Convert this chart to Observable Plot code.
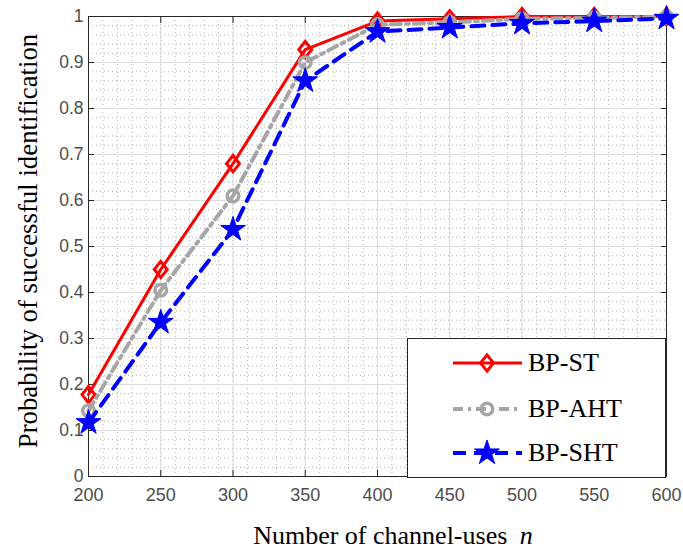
<!DOCTYPE html>
<html><head><meta charset="utf-8">
<script src="https://cdn.jsdelivr.net/npm/d3@7"></script>
<script src="https://cdn.jsdelivr.net/npm/@observablehq/plot@0.6"></script>
<style>body{margin:0;background:#fff}</style>
</head><body><div id="chart"></div>
<script>
const nValues = [200, 250, 300, 350, 400, 450, 500, 550, 600];
const seriesNames = ["BP-ST", "BP-AHT", "BP-SHT"];
const stValues  = [0.178, 0.450, 0.680, 0.928, 0.990, 0.995, 1.000, 1.000, 1.000];
const ahtValues = [0.143, 0.405, 0.610, 0.900, 0.982, 0.987, 0.995, 0.997, 0.999];
const shtValues = [0.117, 0.335, 0.537, 0.860, 0.967, 0.976, 0.985, 0.990, 0.996];
const xTicks = [200, 250, 300, 350, 400, 450, 500, 550, 600];
const yTicks = [0, 0.1, 0.2, 0.3, 0.4, 0.5, 0.6, 0.7, 0.8, 0.9, 1];
const xMinorStep = 10;
const yMinorStep = 0.02;
const xLabel = "Number of channel-uses ";
const xLabelVar = "n";
const yLabel = "Probability of successful identification";

const seriesValues = [stValues, ahtValues, shtValues];
const data = seriesNames.flatMap((s, i) => nValues.map((n, j) => ({series: s, n, p: seriesValues[i][j]})));
const xMinor = d3.range(200, 600 + 1e-9, xMinorStep);
const yMinor = d3.range(0, 1 + 1e-9, yMinorStep).map(v => +v.toFixed(2));

const colors = {"BP-ST": "#ff0000", "BP-AHT": "#a6a6a6", "BP-SHT": "#0000ff"};
const dashes = {"BP-ST": null, "BP-AHT": "10,5,3,5", "BP-SHT": "13,8"};
const widths = {"BP-ST": 3, "BP-AHT": 4, "BP-SHT": 4};

const mDiamond = {draw(ctx, size) {
  const r = Math.sqrt(size / Math.PI);
  const h = r * 1.2, w = r * 0.95;
  ctx.moveTo(0, -h); ctx.lineTo(w, 0); ctx.lineTo(0, h); ctx.lineTo(-w, 0); ctx.closePath();
}};
const symbols = {"BP-ST": mDiamond, "BP-AHT": d3.symbolCircle, "BP-SHT": d3.symbolStar};
const symR = {"BP-ST": 6.8, "BP-AHT": 5.8, "BP-SHT": 7.8};
const symFill = {"BP-ST": "none", "BP-AHT": "none", "BP-SHT": "#0000ff"};
const symStroke = {"BP-ST": 3, "BP-AHT": 3.5, "BP-SHT": 1};

const fmt = d => (d === 0 || d === 1) ? String(d) : d.toFixed(1);

const seriesMarks = seriesNames.flatMap(s => {
  const sub = data.filter(d => d.series === s);
  return [
    Plot.line(sub, {x: "n", y: "p", stroke: colors[s], strokeWidth: widths[s], strokeDasharray: dashes[s], strokeLinejoin: "round"}),
    Plot.dot(sub, {x: "n", y: "p", symbol: () => symbols[s], r: symR[s], stroke: colors[s], fill: symFill[s], strokeWidth: symStroke[s]})
  ];
});

const plot = Plot.plot({
  width: 683, height: 550,
  marginLeft: 88, marginRight: 17, marginTop: 16, marginBottom: 74,
  style: {fontFamily: "'Liberation Sans', Arial, sans-serif", fontSize: "17px", background: "#fff"},
  x: {domain: [200, 600]},
  y: {domain: [0, 1]},
  symbol: {type: "identity"},
  marks: [
    Plot.gridX(xMinor, {stroke: "#b0b0b0", strokeOpacity: 1, strokeDasharray: "1,3", strokeWidth: 1}),
    Plot.gridY(yMinor, {stroke: "#b0b0b0", strokeOpacity: 1, strokeDasharray: "1,3", strokeWidth: 1}),
    Plot.gridX(xTicks, {stroke: "#dcdcdc", strokeOpacity: 1, strokeWidth: 1}),
    Plot.gridY(yTicks, {stroke: "#dcdcdc", strokeOpacity: 1, strokeWidth: 1}),
    Plot.axisX({ticks: xTicks, anchor: "bottom", tickSize: 0, tickPadding: 12, fill: "#4d4d4d", label: null, fontSize: 18}),
    Plot.axisY({ticks: yTicks, anchor: "left", tickSize: 0, tickPadding: 5, tickFormat: fmt, fill: "#4d4d4d", label: null, fontSize: 17.5}),
    Plot.axisX({ticks: xTicks, anchor: "bottom", tickSize: -6, stroke: "#262626", tickFormat: () => "", label: null}),
    Plot.axisX({ticks: xTicks, anchor: "top", tickSize: -6, stroke: "#262626", tickFormat: () => "", label: null}),
    Plot.axisY({ticks: yTicks, anchor: "left", tickSize: -6, stroke: "#262626", tickFormat: () => "", label: null}),
    Plot.axisY({ticks: yTicks, anchor: "right", tickSize: -6, stroke: "#262626", tickFormat: () => "", label: null}),
    Plot.frame({stroke: "#262626", strokeWidth: 1}),
    ...seriesMarks
  ]
});
document.getElementById("chart").appendChild(plot);

const svg = d3.select(plot);
const serif = "'Liberation Serif', 'Times New Roman', serif";
// axis titles
const xt = svg.append("text").attr("x", 393).attr("y", 544).attr("text-anchor", "middle")
  .style("font-family", serif).style("font-size", "26px").attr("fill", "#000");
xt.append("tspan").text(xLabel);
xt.append("tspan").style("font-style", "italic").attr("dx", 6).text(xLabelVar);
svg.append("text").attr("transform", "translate(37,241) rotate(-90)").attr("text-anchor", "middle")
  .style("font-family", serif).style("font-size", "26.8px").attr("fill", "#000").text(yLabel);

// legend
const lg = svg.append("g");
lg.append("rect").attr("x", 407.5).attr("y", 338.5).attr("width", 258).attr("height", 139)
  .attr("fill", "#fff").attr("stroke", "#262626").attr("stroke-width", 1);
const rowsY = [363, 409, 453];
seriesNames.forEach((s, i) => {
  const y = rowsY[i];
  lg.append("line").attr("x1", 453).attr("x2", 522).attr("y1", y).attr("y2", y)
    .attr("stroke", colors[s]).attr("stroke-width", widths[s]).attr("stroke-dasharray", dashes[s]);
  lg.append("path").attr("transform", `translate(487,${y})`)
    .attr("d", d3.symbol(symbols[s], Math.PI * symR[s] * symR[s])())
    .attr("fill", symFill[s]).attr("stroke", colors[s]).attr("stroke-width", symStroke[s]);
  lg.append("text").attr("x", 528).attr("y", y + 8).attr("text-anchor", "start")
    .style("font-family", serif).style("font-size", "26px").attr("fill", "#000").text(s);
});
</script>
</body></html>
